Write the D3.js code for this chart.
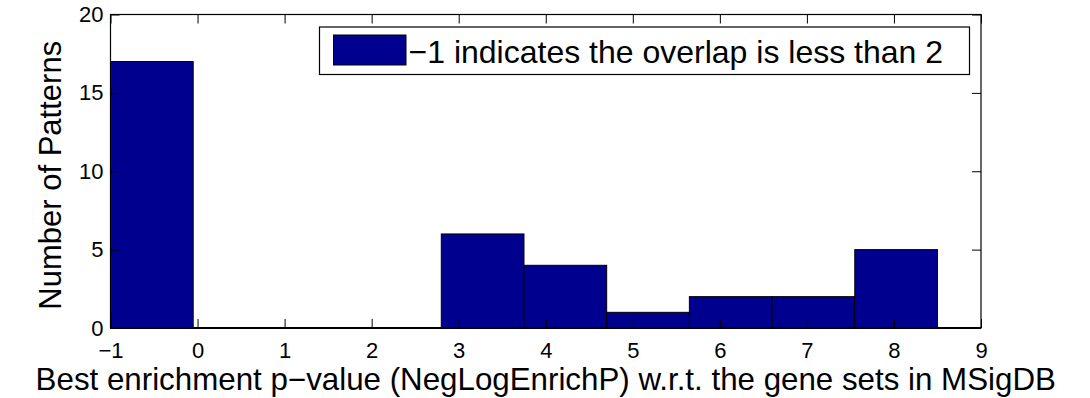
<!DOCTYPE html>
<html>
<head>
<meta charset="utf-8">
<script src="https://cdn.jsdelivr.net/npm/d3@7"></script>
<style>
  body { margin: 0; background: #fff; }
  svg text { font-family: "Liberation Sans", Arial, Helvetica, sans-serif; fill: #000; }
</style>
</head>
<body>
<svg id="chart" width="1090" height="398"></svg>
<script>
// histogram bins (edges) and counts
const binEdges = [-1, -0.05, 0.9, 1.85, 2.8, 3.75, 4.7, 5.65, 6.6, 7.55, 8.5];
const counts = [17, 0, 0, 0, 6, 4, 1, 2, 2, 5];
const xTicks = [-1, 0, 1, 2, 3, 4, 5, 6, 7, 8, 9];
const yTicks = [0, 5, 10, 15, 20];
const legendLabel = "\u22121 indicates the overlap is less than 2";
const xLabel = "Best enrichment p\u2212value (NegLogEnrichP) w.r.t. the gene sets in MSigDB";
const yLabel = "Number of Patterns";

const bins = counts.map((c, i) => ({ x0: binEdges[i], x1: binEdges[i + 1], count: c }));

const svg = d3.select("#chart");
const margin = { top: 14.5, right: 109, bottom: 70, left: 110.5 };
const width = 1090;
const height = 398;

const x = d3.scaleLinear().domain([-1, 9]).range([margin.left, width - margin.right]);
const y = d3.scaleLinear().domain([0, 20]).range([height - margin.bottom, margin.top]);

const fmt = (d) => (d < 0 ? "\u2212" + Math.abs(d) : String(d));

// bars
svg.append("g")
  .selectAll("rect")
  .data(bins.filter((d) => d.count > 0))
  .join("rect")
  .attr("x", (d) => x(d.x0))
  .attr("y", (d) => y(d.count))
  .attr("width", (d) => x(d.x1) - x(d.x0))
  .attr("height", (d) => y(0) - y(d.count))
  .attr("fill", "#00008f")
  .attr("stroke", "#000")
  .attr("stroke-width", 1);

// axes, inward ticks like matlab
const tickLen = 9;
const axBottom = svg.append("g")
  .attr("transform", `translate(0,${y(0)})`)
  .call(d3.axisBottom(x).tickValues(xTicks).tickFormat(fmt).tickSize(-tickLen).tickPadding(14));
const axTop = svg.append("g")
  .attr("transform", `translate(0,${y(20)})`)
  .call(d3.axisTop(x).tickValues(xTicks).tickFormat("").tickSize(-tickLen));
const axLeft = svg.append("g")
  .attr("transform", `translate(${x(-1)},0)`)
  .call(d3.axisLeft(y).tickValues(yTicks).tickFormat(fmt).tickSize(-tickLen).tickPadding(7));
const axRight = svg.append("g")
  .attr("transform", `translate(${x(9)},0)`)
  .call(d3.axisRight(y).tickValues(yTicks).tickFormat("").tickSize(-tickLen));

[axBottom, axTop, axLeft, axRight].forEach((g) => {
  g.select(".domain").remove();
  g.selectAll("line").attr("stroke", "#000").attr("stroke-width", 1);
  g.selectAll("text").attr("font-size", 22).attr("fill", "#000");
});
axBottom.selectAll("text").attr("dy", "0.71em");

// box
svg.append("rect")
  .attr("x", x(-1))
  .attr("y", y(20))
  .attr("width", x(9) - x(-1))
  .attr("height", y(0) - y(20))
  .attr("fill", "none")
  .attr("stroke", "#000")
  .attr("stroke-width", 1.2);
svg.append("line")
  .attr("x1", x(-1)).attr("x2", x(9))
  .attr("y1", y(0)).attr("y2", y(0))
  .attr("stroke", "#000").attr("stroke-width", 2);

// legend
const legend = svg.append("g").attr("transform", "translate(319.5,27)");
legend.append("rect")
  .attr("width", 650).attr("height", 47.5)
  .attr("fill", "#fff").attr("stroke", "#000").attr("stroke-width", 1.2);
legend.append("rect")
  .attr("x", 14).attr("y", 8)
  .attr("width", 72.5).attr("height", 30)
  .attr("fill", "#00008f").attr("stroke", "#000").attr("stroke-width", 1);
legend.append("text")
  .attr("x", 89).attr("y", 35.5)
  .attr("font-size", 32)
  .text(legendLabel);

// axis labels
svg.append("text")
  .attr("x", (x(-1) + x(9)) / 2)
  .attr("y", 390)
  .attr("text-anchor", "middle")
  .attr("font-size", 31.3)
  .text(xLabel);

svg.append("text")
  .attr("transform", `translate(60.5,${(y(0) + y(20)) / 2 + 4}) rotate(-90)`)
  .attr("text-anchor", "middle")
  .attr("font-size", 31)
  .text(yLabel);
</script>
</body>
</html>
